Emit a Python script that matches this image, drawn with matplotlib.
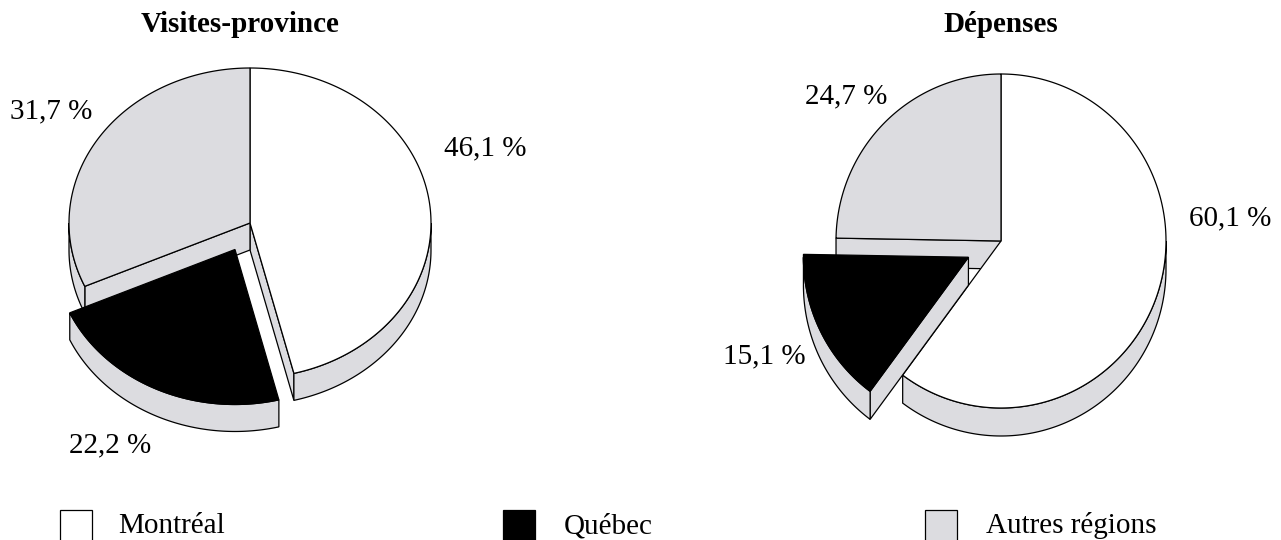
import numpy as np
import matplotlib
matplotlib.use("Agg")
import matplotlib.pyplot as plt
from matplotlib.patches import Polygon, Rectangle

# ---------------- data ----------------
categories = ["Montréal", "Québec", "Autres régions"]
visites_values = [46.1, 22.2, 31.7]
depenses_values = [60.1, 15.1, 24.7]
chart_titles = ["Visites-province", "Dépenses"]
exploded_category = "Québec"

# ---------------- style / layout ----------------
W, H = 1281, 540
colors = ["#ffffff", "#000000", "#dcdce0"]
wall_color = "#dcdce0"
serif = ["Liberation Serif", "DejaVu Serif"]

# label positions in order: Montréal, Québec, Autres régions
pies = [
    dict(values=visites_values, title=chart_titles[0], cx=250, cy=223, rx=181, ry=155,
         depth=27, explode=0.19, title_xy=(240, 32),
         label_xy=[(485, 155), (110, 452), (51, 118)]),
    dict(values=depenses_values, title=chart_titles[1], cx=1001, cy=241, rx=165, ry=167,
         depth=28, explode=0.22, title_xy=(1001, 32),
         label_xy=[(1230, 225), (764, 363), (846, 103)]),
]

fig = plt.figure(figsize=(W / 100, H / 100), dpi=100)
ax = fig.add_axes([0, 0, 1, 1])
ax.set_xlim(0, W)
ax.set_ylim(H, 0)
ax.axis("off")

LW = 0.9


def pt(p, t, off=(0, 0), dz=0.0):
    r = np.radians(t)
    return (p["cx"] + off[0] + p["rx"] * np.cos(r),
            p["cy"] + off[1] - p["ry"] * np.sin(r) + dz)


def add_poly(xy, fc, z):
    ax.add_patch(Polygon(xy, closed=True, facecolor=fc, edgecolor="black",
                         linewidth=LW, joinstyle="miter", zorder=z))


def draw_slice_parts(p, a, b, fc, off, faces, z):
    cx, cy = p["cx"] + off[0], p["cy"] + off[1]
    d = p["depth"]
    # radial cut faces
    for ang, side in faces:
        r = np.radians(ang)
        vis = np.cos(r) > 1e-6 if side == "a" else np.cos(r) < -1e-6
        if vis:
            x1, y1 = pt(p, ang, off)
            add_poly([(cx, cy), (x1, y1), (x1, y1 + d), (cx, cy + d)], wall_color, z)
    # outer wall (front half only)
    for k in range(-2, 2):
        lo = max(a, 180 + 360 * k)
        hi = min(b, 360 + 360 * k)
        if lo < hi:
            ts = np.linspace(lo, hi, 120)
            top = [pt(p, t, off) for t in ts]
            bot = [pt(p, t, off, d) for t in ts[::-1]]
            add_poly(top + bot, wall_color, z + 0.1)
    # top face
    ts = np.linspace(a, b, 300)
    add_poly([(cx, cy)] + [pt(p, t, off) for t in ts], fc, z + 0.2)


for p in pies:
    vals = np.array(p["values"], dtype=float)
    frac = vals / vals.sum()
    ends = 90 - np.cumsum(frac) * 360
    starts = np.concatenate([[90], ends[:-1]])
    n = len(vals)
    ex = categories.index(exploded_category)
    for i in range(n):
        a, b = ends[i], starts[i]
        if i == ex:
            mid = np.radians((a + b) / 2)
            off = (p["explode"] * p["rx"] * np.cos(mid), -p["explode"] * p["ry"] * np.sin(mid))
            faces = [(a, "a"), (b, "b")]
            z = 10
        else:
            off = (0, 0)
            faces = []
            if (i + 1) % n == ex:
                faces.append((a, "a"))
            if (i - 1) % n == ex:
                faces.append((b, "b"))
            z = 2
        draw_slice_parts(p, a, b, colors[i], off, faces, z)
    # labels
    for i in range(n):
        lx, ly = p["label_xy"][i]
        txt = f"{vals[i]:.1f}".replace(".", ",") + " %"
        ax.text(lx, ly, txt, ha="center", va="baseline", fontsize=21,
                family=serif, zorder=20)
    ax.text(p["title_xy"][0], p["title_xy"][1], p["title"], ha="center", va="baseline",
            fontsize=21, fontweight="bold", family=serif, zorder=20)

# legend
legend_boxes = [(60, 510), (503, 510), (925, 510)]
legend_text_x = [118, 564, 986]
for i, cat in enumerate(categories):
    bx, by = legend_boxes[i]
    ax.add_patch(Rectangle((bx, by), 32, 32, facecolor=colors[i], edgecolor="black",
                           linewidth=LW, zorder=5, clip_on=False))
    ax.text(legend_text_x[i], 533, cat, ha="left", va="baseline", fontsize=21,
            family=serif, zorder=20)

fig.savefig("out.png", dpi=100, facecolor="white")
